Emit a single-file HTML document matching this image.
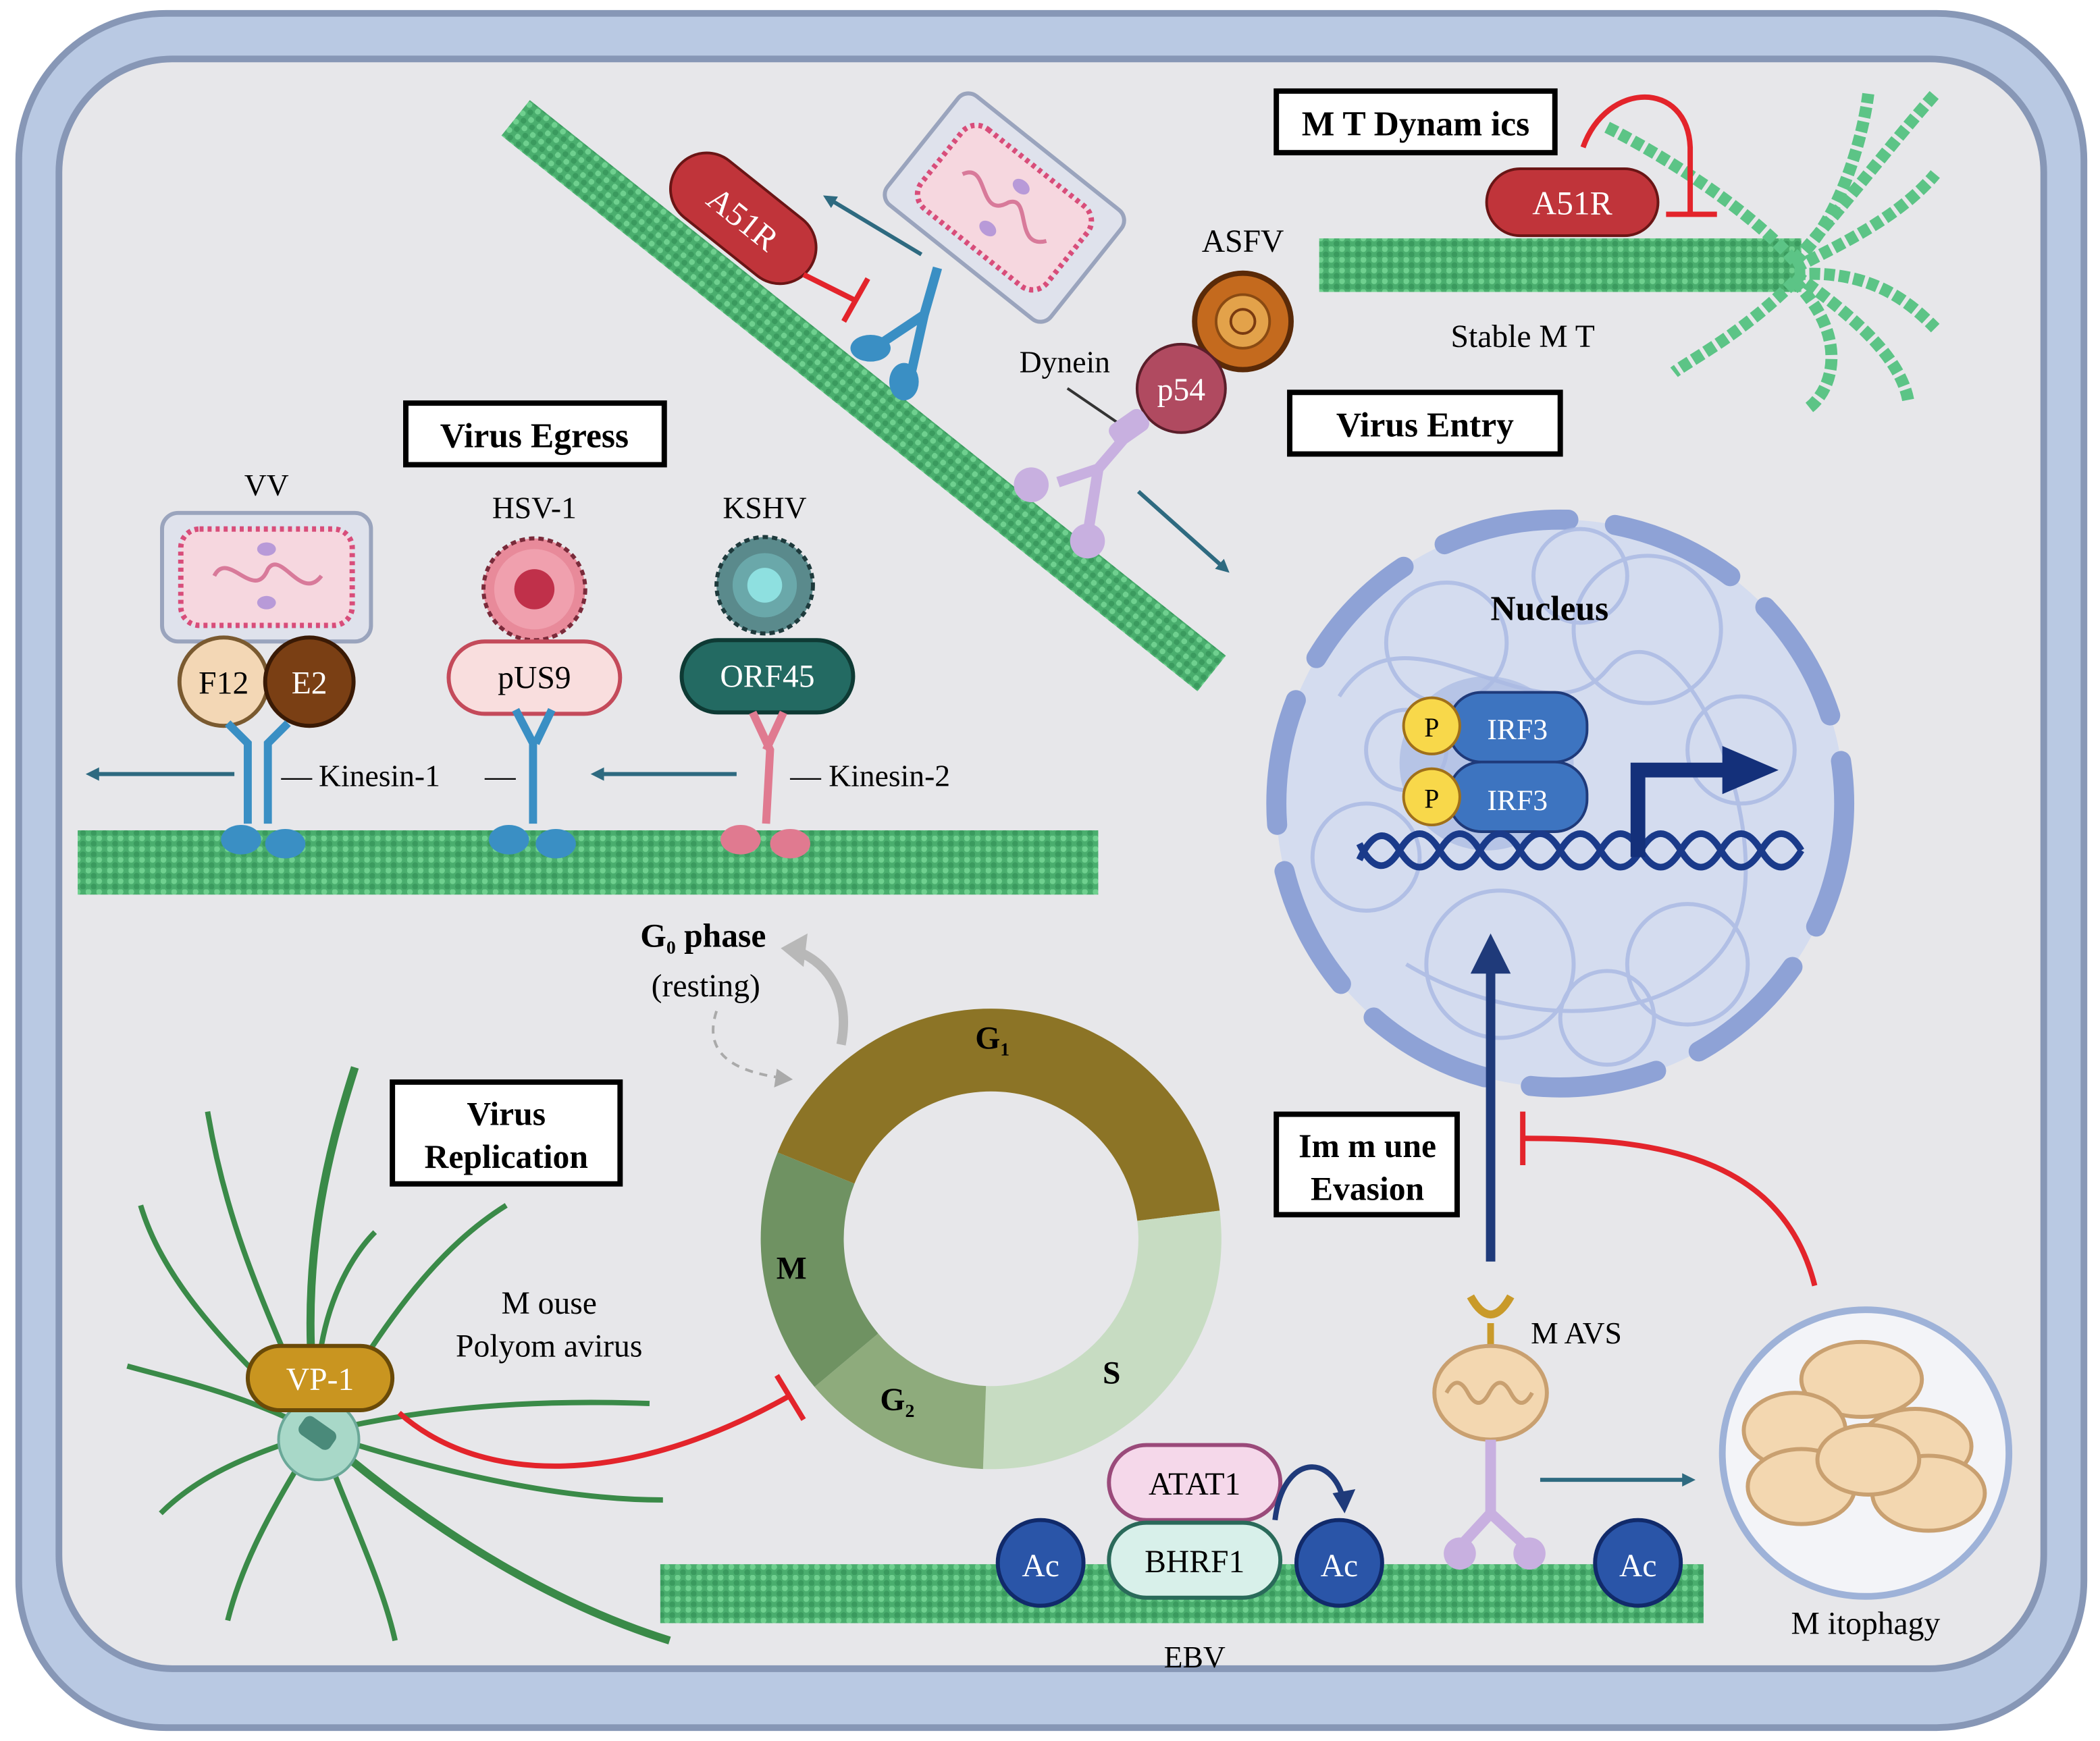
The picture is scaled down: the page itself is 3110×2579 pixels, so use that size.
<!DOCTYPE html>
<html><head><meta charset="utf-8"><style>
html,body{margin:0;padding:0;background:#fff;}
svg{display:block;}
text{font-family:"Liberation Serif",serif;}
</style></head><body>
<svg width="3110" height="2579" viewBox="0 0 1568 1300" preserveAspectRatio="none" xmlns="http://www.w3.org/2000/svg">
<defs>
<pattern id="mt" width="8" height="8" patternUnits="userSpaceOnUse">
<rect width="8" height="8" fill="#4aae6e"/>
<circle cx="2" cy="2" r="2.2" fill="#6fd08f"/>
<circle cx="6" cy="6" r="2.2" fill="#3a9a5e"/>
</pattern>
<marker id="ah" markerWidth="10" markerHeight="10" refX="6" refY="5" orient="auto" markerUnits="userSpaceOnUse"><path d="M0,0 L10,5 L0,10 Z" fill="#2e6a80"/></marker>
<marker id="ahb" markerWidth="30" markerHeight="30" refX="15" refY="15" orient="auto" markerUnits="userSpaceOnUse"><path d="M0,0 L30,15 L0,30 Z" fill="#1f3a7a"/></marker>
</defs>
<rect x="14" y="10" width="1542" height="1280" rx="110" fill="#b9c9e3" stroke="#8797b6" stroke-width="5"/>
<rect x="44" y="44" width="1482" height="1202" rx="85" fill="#e7e7ea" stroke="#8797b6" stroke-width="5"/>

<g transform="translate(385,88) rotate(38.6)">
<rect x="0" y="-17" width="665" height="34" fill="url(#mt)"/>
</g>
<rect x="58" y="620" width="762" height="48" fill="url(#mt)"/>
<rect x="493" y="1168" width="779" height="44" fill="url(#mt)"/>
<rect x="985" y="178" width="360" height="40" fill="url(#mt)"/>
<g>
<path d="M1340,195 C1380,150 1410,110 1445,70" fill="none" stroke="#5cc486" stroke-width="9" stroke-dasharray="8 3"/>
<path d="M1340,195 C1370,170 1390,110 1395,70" fill="none" stroke="#5cc486" stroke-width="9" stroke-dasharray="8 3"/>
<path d="M1340,195 C1300,150 1230,110 1200,95" fill="none" stroke="#5cc486" stroke-width="9" stroke-dasharray="8 3"/>
<path d="M1340,200 C1380,180 1420,160 1445,130" fill="none" stroke="#5cc486" stroke-width="9" stroke-dasharray="8 3"/>
<path d="M1340,205 C1390,240 1420,270 1425,300" fill="none" stroke="#5cc486" stroke-width="9" stroke-dasharray="8 3"/>
<path d="M1340,210 C1380,250 1370,290 1350,305" fill="none" stroke="#5cc486" stroke-width="9" stroke-dasharray="8 3"/>
<path d="M1340,210 C1300,250 1260,270 1250,278" fill="none" stroke="#5cc486" stroke-width="9" stroke-dasharray="8 3"/>
<path d="M1340,205 C1400,200 1430,230 1445,245" fill="none" stroke="#5cc486" stroke-width="9" stroke-dasharray="8 3"/>
</g>

<rect x="953" y="68" width="208" height="46" fill="#fff" stroke="#000" stroke-width="4"/>
<text x="1057" y="101" font-size="26" text-anchor="middle" font-weight="bold">M T Dynam ics</text>
<rect x="1110" y="126" width="128" height="50" rx="25" fill="#c0343a" stroke="#6a1515" stroke-width="2"/>
<text x="1174" y="160" font-size="25" fill="#fff" text-anchor="middle">A51R</text>
<path d="M1182,110 C1200,60 1260,60 1262,110 L1262,160" fill="none" stroke="#e3242b" stroke-width="4"/>
<line x1="1244" y1="160" x2="1282" y2="160" stroke="#e3242b" stroke-width="4"/>
<text x="1137" y="259" font-size="24" text-anchor="middle">Stable M T</text>

<g transform="translate(555,163) rotate(38.6)">
<rect x="-62" y="-27" width="124" height="54" rx="27" fill="#c0343a" stroke="#6a1515" stroke-width="2"/>
<text x="0" y="9" font-size="25" fill="#fff" text-anchor="middle">A51R</text>
</g>
<path d="M600,205 L640,225" stroke="#e3242b" stroke-width="4"/>
<line x1="630" y1="240" x2="648" y2="208" stroke="#e3242b" stroke-width="4"/>
<line x1="688" y1="190" x2="618" y2="148" stroke="#2e6a80" stroke-width="3" marker-end="url(#ah)"/>
<line x1="850" y1="367" x2="915" y2="425" stroke="#2e6a80" stroke-width="3" marker-end="url(#ah)"/>
<g transform="translate(750,155) rotate(38.6)">
<rect x="-78" y="-52" width="156" height="104" rx="10" fill="#dfe2ec" stroke="#9aa4bd" stroke-width="3"/>
<rect x="-60" y="-38" width="120" height="76" rx="14" fill="#f6d7df" stroke="#d84d7a" stroke-width="4" stroke-dasharray="3 3"/>
<path d="M-40,0 C-30,-20 -10,20 0,-5 C10,-20 25,20 40,0" fill="none" stroke="#d87a9a" stroke-width="3"/>
<ellipse cx="0" cy="-20" rx="7" ry="5" fill="#b89ad8"/><ellipse cx="0" cy="20" rx="7" ry="5" fill="#b89ad8"/>
</g>
<path d="M700,200 L690,235 L660,255 M690,235 L680,280" stroke="#3a8fc4" stroke-width="7" fill="none"/>
<ellipse cx="650" cy="260" rx="15" ry="10" fill="#3a8fc4"/><ellipse cx="675" cy="285" rx="11" ry="14" fill="#3a8fc4"/>
<text x="928" y="188" font-size="24" text-anchor="middle">ASFV</text>
<circle cx="928" cy="240" r="36" fill="#c46a1e" stroke="#5a2a08" stroke-width="4"/>
<circle cx="928" cy="240" r="20" fill="#e3a24a" stroke="#8a4a12" stroke-width="2"/>
<circle cx="928" cy="240" r="9" fill="none" stroke="#7a3a10" stroke-width="2"/>
<circle cx="882" cy="290" r="33" fill="#b04a60" stroke="#5a1e2a" stroke-width="2"/>
<text x="882" y="299" font-size="24" fill="#fff" text-anchor="middle">p54</text>
<text x="795" y="278" font-size="23" text-anchor="middle">Dynein</text>
<line x1="797" y1="290" x2="838" y2="318" stroke="#333" stroke-width="2"/>
<path d="M850,315 L820,350 L790,360 M820,350 L812,400" stroke="#c8b0e0" stroke-width="8" fill="none"/>
<circle cx="770" cy="362" r="13" fill="#c8b0e0"/><circle cx="812" cy="404" r="13" fill="#c8b0e0"/>
<rect x="828" y="310" width="30" height="18" rx="6" fill="#c8b0e0" transform="rotate(-35 843 319)"/>
<rect x="963" y="293" width="202" height="46" fill="#fff" stroke="#000" stroke-width="4"/>
<text x="1064" y="326" font-size="26" text-anchor="middle" font-weight="bold">Virus Entry</text>

<rect x="303" y="301" width="193" height="46" fill="#fff" stroke="#000" stroke-width="4"/>
<text x="399" y="334" font-size="26" text-anchor="middle" font-weight="bold">Virus Egress</text>
<text x="199" y="370" font-size="23" text-anchor="middle">VV</text>
<rect x="121" y="383" width="156" height="96" rx="12" fill="#dfe2ec" stroke="#9aa4bd" stroke-width="3"/>
<rect x="135" y="395" width="128" height="72" rx="14" fill="#f6d7df" stroke="#d84d7a" stroke-width="4" stroke-dasharray="3 3"/>
<path d="M160,430 C170,410 190,450 200,425 C210,410 225,450 240,430" fill="none" stroke="#d87a9a" stroke-width="3"/>
<ellipse cx="199" cy="410" rx="7" ry="5" fill="#b89ad8"/><ellipse cx="199" cy="450" rx="7" ry="5" fill="#b89ad8"/>
<circle cx="167" cy="509" r="33" fill="#f3d7b5" stroke="#7a5a30" stroke-width="3"/>
<text x="167" y="518" font-size="24" text-anchor="middle">F12</text>
<circle cx="231" cy="509" r="33" fill="#7a3f14" stroke="#3a1a05" stroke-width="3"/>
<text x="231" y="518" font-size="24" fill="#fff" text-anchor="middle">E2</text>
<text x="399" y="387" font-size="23" text-anchor="middle">HSV-1</text>
<circle cx="399" cy="440" r="38" fill="#e88a9a" stroke="#7a2a3a" stroke-width="3" stroke-dasharray="4 3"/>
<circle cx="399" cy="440" r="30" fill="#f0a0ae"/>
<circle cx="399" cy="440" r="15" fill="#c0304a"/>
<rect x="335" y="479" width="128" height="54" rx="27" fill="#f9dede" stroke="#c44a5a" stroke-width="3"/>
<text x="399" y="514" font-size="24" text-anchor="middle">pUS9</text>
<text x="571" y="387" font-size="23" text-anchor="middle">KSHV</text>
<circle cx="571" cy="437" r="36" fill="#5a8a8c" stroke="#1e3a3c" stroke-width="3" stroke-dasharray="4 3"/>
<circle cx="571" cy="437" r="24" fill="#6aa8aa"/>
<circle cx="571" cy="437" r="13" fill="#8ee0e0"/>
<rect x="509" y="478" width="128" height="54" rx="27" fill="#236a62" stroke="#0e3a34" stroke-width="3"/>
<text x="573" y="513" font-size="24" fill="#fff" text-anchor="middle">ORF45</text>
<g stroke="#3a8fc4" stroke-width="6" fill="none">
<path d="M170,540 L185,555 L185,615 M215,540 L200,555 L200,615"/>
<path d="M385,530 L398,555 L398,615 M412,530 L400,555"/>
</g>
<g fill="#3a8fc4"><ellipse cx="180" cy="627" rx="15" ry="11"/><ellipse cx="213" cy="630" rx="15" ry="11"/>
<ellipse cx="380" cy="627" rx="15" ry="11"/><ellipse cx="415" cy="630" rx="15" ry="11"/></g>
<path d="M562,532 L575,560 L572,615 M585,532 L572,560" stroke="#e07a90" stroke-width="6" fill="none"/>
<ellipse cx="553" cy="627" rx="15" ry="11" fill="#e07a90"/><ellipse cx="590" cy="630" rx="15" ry="11" fill="#e07a90"/>
<line x1="175" y1="578" x2="68" y2="578" stroke="#2e6a80" stroke-width="3" marker-end="url(#ah)"/>
<line x1="550" y1="578" x2="445" y2="578" stroke="#2e6a80" stroke-width="3" marker-end="url(#ah)"/>
<text x="210" y="587" font-size="23">—</text>
<text x="238" y="587" font-size="23">Kinesin-1</text>
<text x="362" y="587" font-size="23">—</text>
<text x="590" y="587" font-size="23">—  Kinesin-2</text>

<circle cx="1165" cy="600" r="212" fill="#d4dcef"/>
<circle cx="1165" cy="600" r="212" fill="none" stroke="#8ea2d6" stroke-width="15" stroke-linecap="round" stroke-dasharray="95 35"/>
<g fill="none" stroke="#a9b9e3" stroke-width="3" opacity="0.8">
<circle cx="1080" cy="480" r="45"/><circle cx="1230" cy="470" r="55"/><circle cx="1120" cy="720" r="55"/>
<circle cx="1260" cy="720" r="45"/><circle cx="1020" cy="640" r="40"/><circle cx="1300" cy="560" r="40"/>
<circle cx="1180" cy="430" r="35"/><circle cx="1200" cy="760" r="35"/><circle cx="1050" cy="560" r="30"/>
<path d="M1000,520 C1050,440 1150,560 1200,500 S1320,600 1300,680 S1150,780 1050,720"/>
</g>
<text x="1157" y="463" font-size="26" text-anchor="middle" font-weight="bold">Nucleus</text>
<circle cx="1110" cy="570" r="65" fill="#a9b9e3" opacity="0.7"/>
<rect x="1082" y="517" width="103" height="52" rx="24" fill="#3d74c0" stroke="#1f3a7a" stroke-width="2"/>
<rect x="1082" y="569" width="103" height="52" rx="24" fill="#3d74c0" stroke="#1f3a7a" stroke-width="2"/>
<text x="1133" y="552" font-size="22" fill="#fff" text-anchor="middle">IRF3</text>
<text x="1133" y="605" font-size="22" fill="#fff" text-anchor="middle">IRF3</text>
<circle cx="1069" cy="542" r="21" fill="#f8d84a" stroke="#a0701a" stroke-width="2"/>
<circle cx="1069" cy="595" r="21" fill="#f8d84a" stroke="#a0701a" stroke-width="2"/>
<text x="1069" y="550" font-size="20" text-anchor="middle">P</text>
<text x="1069" y="603" font-size="20" text-anchor="middle">P</text>
<path d="M1015,642 Q1030,610 1045,635 T1075,635 T1105,635 T1135,635 T1165,635 T1195,635 T1225,635 T1255,635 T1285,635 T1315,635 T1345,635" fill="none" stroke="#1a3a8a" stroke-width="5"/>
<path d="M1015,630 Q1030,660 1045,635 T1075,635 T1105,635 T1135,635 T1165,635 T1195,635 T1225,635 T1255,635 T1285,635 T1315,635 T1345,635" fill="none" stroke="#1a3a8a" stroke-width="5"/>
<path d="M1223,640 L1223,575 L1290,575" fill="none" stroke="#14307a" stroke-width="11"/>
<path d="M1286,557 L1328,575 L1286,593 Z" fill="#14307a"/>

<line x1="1113" y1="942" x2="1113" y2="712" stroke="#1f3a7a" stroke-width="7" marker-end="url(#ahb)"/>
<rect x="953" y="832" width="135" height="75" fill="#fff" stroke="#000" stroke-width="4"/>
<text x="1021" y="864" font-size="25" text-anchor="middle" font-weight="bold">Im m une</text>
<text x="1021" y="896" font-size="25" text-anchor="middle" font-weight="bold">Evasion</text>
<path d="M1355,960 C1330,860 1230,850 1137,850" fill="none" stroke="#e3242b" stroke-width="4"/>
<line x1="1137" y1="830" x2="1137" y2="870" stroke="#e3242b" stroke-width="4"/>
<path d="M1098,968 Q1113,995 1128,968" fill="none" stroke="#c99a2a" stroke-width="6"/>
<line x1="1113" y1="988" x2="1113" y2="1010" stroke="#c99a2a" stroke-width="5"/>
<ellipse cx="1113" cy="1040" rx="42" ry="35" fill="#f3d7b0" stroke="#c9a070" stroke-width="3"/>
<path d="M1080,1040 q8,-15 16,0 t16,0 t16,0 t16,0" fill="none" stroke="#c9a070" stroke-width="3"/>
<path d="M1113,1075 L1113,1130 L1090,1155 M1113,1130 L1140,1155" stroke="#c8b0e0" stroke-width="8" fill="none"/>
<circle cx="1090" cy="1160" r="12" fill="#c8b0e0"/><circle cx="1142" cy="1160" r="12" fill="#c8b0e0"/>
<text x="1177" y="1003" font-size="23" text-anchor="middle">M AVS</text>
<line x1="1150" y1="1105" x2="1262" y2="1105" stroke="#2e6a80" stroke-width="3" marker-end="url(#ah)"/>
<circle cx="1393" cy="1085" r="107" fill="#f3f4f8" stroke="#9eb2d8" stroke-width="5"/>
<g fill="#f3d7b0" stroke="#c9a070" stroke-width="3">
<ellipse cx="1390" cy="1030" rx="45" ry="28"/><ellipse cx="1340" cy="1068" rx="38" ry="28"/>
<ellipse cx="1430" cy="1080" rx="42" ry="28"/><ellipse cx="1345" cy="1110" rx="40" ry="28"/><ellipse cx="1440" cy="1115" rx="42" ry="28"/>
<ellipse cx="1395" cy="1090" rx="38" ry="26"/></g>
<text x="1393" y="1220" font-size="24" text-anchor="middle">M itophagy</text>

<circle cx="777" cy="1167" r="32" fill="#2a55a8" stroke="#112a6a" stroke-width="3"/>
<text x="777" y="1177" font-size="24" fill="#fff" text-anchor="middle">Ac</text>
<circle cx="1000" cy="1167" r="32" fill="#2a55a8" stroke="#112a6a" stroke-width="3"/>
<text x="1000" y="1177" font-size="24" fill="#fff" text-anchor="middle">Ac</text>
<circle cx="1223" cy="1167" r="32" fill="#2a55a8" stroke="#112a6a" stroke-width="3"/>
<text x="1223" y="1177" font-size="24" fill="#fff" text-anchor="middle">Ac</text>
<rect x="828" y="1079" width="128" height="56" rx="28" fill="#f5d8ea" stroke="#9a4a7a" stroke-width="3"/>
<text x="892" y="1116" font-size="24" text-anchor="middle">ATAT1</text>
<rect x="828" y="1137" width="128" height="56" rx="28" fill="#d8f0ea" stroke="#2a6a5a" stroke-width="3"/>
<text x="892" y="1174" font-size="24" text-anchor="middle">BHRF1</text>
<path d="M952,1135 C958,1085 995,1085 1003,1120" fill="none" stroke="#1f3a7a" stroke-width="4"/>
<path d="M995,1115 L1004,1130 L1012,1112 Z" fill="#1f3a7a"/>
<text x="892" y="1245" font-size="23" text-anchor="middle">EBV</text>

<path d="M580.6,860.5 A172,172 0 0 1 910.7,904 L849.2,911.6 A110,110 0 0 0 638,883.8 Z" fill="#8c7426"/>
<path d="M910.7,904 A172,172 0 0 1 734,1096.9 L736.2,1034.9 A110,110 0 0 0 849.2,911.6 Z" fill="#c7dcc2"/>
<path d="M734,1096.9 A172,172 0 0 1 608.2,1035.6 L655.7,995.7 A110,110 0 0 0 736.2,1034.9 Z" fill="#8eab7c"/>
<path d="M608.2,1035.6 A172,172 0 0 1 580.6,860.5 L638,883.8 A110,110 0 0 0 655.7,995.7 Z" fill="#6f9262"/>
<text x="741" y="783" font-size="24" text-anchor="middle" font-weight="bold">G<tspan font-size="14" dy="5">1</tspan></text>
<text x="830" y="1033" font-size="24" text-anchor="middle" font-weight="bold">S</text>
<text x="670" y="1053" font-size="24" text-anchor="middle" font-weight="bold">G<tspan font-size="14" dy="5">2</tspan></text>
<text x="591" y="955" font-size="24" text-anchor="middle" font-weight="bold">M</text>
<text x="525" y="707" font-size="25" text-anchor="middle" font-weight="bold">G<tspan font-size="14" dy="5">0</tspan><tspan dy="-5"> phase</tspan></text>
<text x="527" y="744" font-size="24" text-anchor="middle">(resting)</text>
<path d="M628,780 C635,745 620,720 595,710" fill="none" stroke="#b8b8b8" stroke-width="7"/>
<path d="M583,708 L603,697 L600,722 Z" fill="#b8b8b8"/>
<path d="M535,755 C525,785 545,800 585,805" fill="none" stroke="#aaa" stroke-width="2" stroke-dasharray="6 5"/>
<path d="M580,798 L592,806 L578,812 Z" fill="#aaa"/>

<rect x="293" y="808" width="170" height="76" fill="#fff" stroke="#000" stroke-width="4"/>
<text x="378" y="840" font-size="25" text-anchor="middle" font-weight="bold">Virus</text>
<text x="378" y="872" font-size="25" text-anchor="middle" font-weight="bold">Replication</text>
<text x="410" y="981" font-size="24" text-anchor="middle">M ouse</text>
<text x="410" y="1013" font-size="24" text-anchor="middle">Polyom avirus</text>
<g fill="none" stroke="#3a8a48" stroke-width="4">
<path d="M238,1070 C220,950 245,860 265,797" stroke-width="6"/>
<path d="M238,1070 C200,980 170,920 155,830"/>
<path d="M238,1070 C160,1000 120,950 105,900"/>
<path d="M238,1070 C180,1040 130,1030 95,1020"/>
<path d="M238,1070 C170,1090 140,1110 120,1130"/>
<path d="M238,1070 C200,1130 180,1170 170,1210"/>
<path d="M238,1070 C260,1130 285,1180 295,1225"/>
<path d="M238,1070 C330,1150 420,1200 500,1225" stroke-width="6"/>
<path d="M238,1070 C330,1100 420,1120 495,1120"/>
<path d="M238,1070 C320,1050 400,1045 485,1048"/>
<path d="M238,1070 C290,980 330,930 378,900"/>
<path d="M238,1070 C230,990 260,940 280,920"/>
</g>
<circle cx="238" cy="1075" r="30" fill="#a8d8c8" stroke="#6aa898" stroke-width="2"/>
<rect x="223" y="1062" width="28" height="16" rx="5" fill="#4a8a7a" transform="rotate(35 237 1070)"/>
<rect x="185" y="1005" width="108" height="48" rx="24" fill="#c99520" stroke="#6a4a08" stroke-width="3"/>
<text x="239" y="1038" font-size="24" fill="#fff" text-anchor="middle">VP-1</text>
<path d="M298,1055 C360,1110 470,1110 590,1042" fill="none" stroke="#e3242b" stroke-width="4"/>
<line x1="580" y1="1027" x2="600" y2="1060" stroke="#e3242b" stroke-width="4"/>
</svg>
</body></html>
